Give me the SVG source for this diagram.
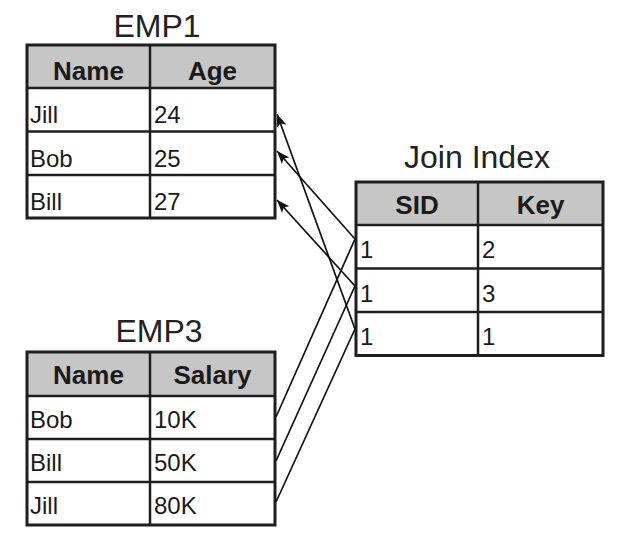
<svg xmlns="http://www.w3.org/2000/svg" width="625" height="538" viewBox="0 0 625 538">
<style>
.title{font-family:"Liberation Sans",Arial,sans-serif;font-size:32px;fill:#222;text-anchor:middle}
.hd{font-family:"Liberation Sans",Arial,sans-serif;font-size:26px;font-weight:bold;fill:#1a1a1a;text-anchor:middle}
.cell{font-family:"Liberation Sans",Arial,sans-serif;font-size:24px;fill:#1a1a1a}
.hdbg{fill:#c6c6c6}
.grid{stroke:#1e1e1e;stroke-width:2.5;fill:none}
.frame{stroke:#1e1e1e;stroke-width:3;fill:none}
.conn{stroke:#111;stroke-width:1.7;fill:none}
</style>
<defs>
<marker id="arr" markerUnits="userSpaceOnUse" markerWidth="14" markerHeight="10" refX="13" refY="5" orient="auto">
<path d="M0,0 L13,5 L0,10 L3,5 Z" fill="#111"/>
</marker>
</defs>
<rect width="625" height="538" fill="#fff"/>

<g id="emp1">
<text class="title" x="157" y="37">EMP1</text>
<rect class="hdbg" x="27" y="45" width="248" height="43"/>
<path class="grid" d="M27,88H275M27,131.5H275M27,175H275M150,45V218"/>
<rect class="frame" x="27" y="45" width="248" height="173"/>
<text class="hd" x="88.5" y="80">Name</text>
<text class="hd" x="212.5" y="80">Age</text>
<text class="cell" x="30" y="123">Jill</text>
<text class="cell" x="154" y="123">24</text>
<text class="cell" x="30" y="166.5">Bob</text>
<text class="cell" x="154" y="166.5">25</text>
<text class="cell" x="30" y="210">Bill</text>
<text class="cell" x="154" y="210">27</text>
</g>

<g id="joinindex">
<text class="title" x="477" y="168">Join Index</text>
<rect class="hdbg" x="356" y="182" width="247" height="43"/>
<path class="grid" d="M356,225H603M356,268.5H603M356,312H603M478,182V355.5"/>
<rect class="frame" x="356" y="182" width="247" height="173.5"/>
<text class="hd" x="417" y="214">SID</text>
<text class="hd" x="540.5" y="214">Key</text>
<text class="cell" x="360" y="258">1</text>
<text class="cell" x="482" y="258">2</text>
<text class="cell" x="360" y="301.5">1</text>
<text class="cell" x="482" y="301.5">3</text>
<text class="cell" x="360" y="345">1</text>
<text class="cell" x="482" y="345">1</text>
</g>

<g id="emp3">
<text class="title" x="159" y="342">EMP3</text>
<rect class="hdbg" x="27" y="352" width="248" height="44"/>
<path class="grid" d="M27,396H275M27,439H275M27,482H275M150,352V525"/>
<rect class="frame" x="27" y="352" width="248" height="173"/>
<text class="hd" x="88.5" y="384">Name</text>
<text class="hd" x="212.5" y="384">Salary</text>
<text class="cell" x="30" y="428">Bob</text>
<text class="cell" x="154" y="428">10K</text>
<text class="cell" x="30" y="471">Bill</text>
<text class="cell" x="154" y="471">50K</text>
<text class="cell" x="30" y="514">Jill</text>
<text class="cell" x="154" y="514">80K</text>
</g>

<g id="connectors">
<path class="conn" d="M276,417L355,239"/>
<path class="conn" d="M276,461L355,286"/>
<path class="conn" d="M276,502L355,329"/>
<path class="conn" d="M355,239L277,151" marker-end="url(#arr)"/>
<path class="conn" d="M355,286L277,200" marker-end="url(#arr)"/>
<path class="conn" d="M355,329L277,114" marker-end="url(#arr)"/>
</g>
</svg>
